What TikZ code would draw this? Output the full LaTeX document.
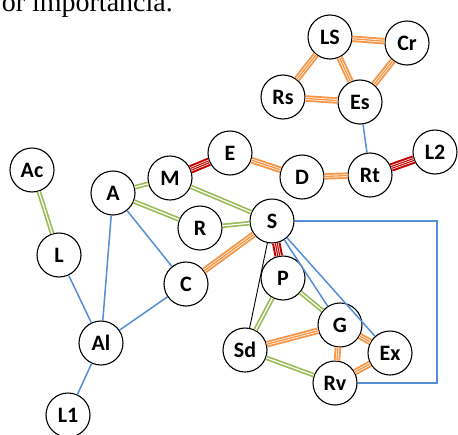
\documentclass[tikz,border=0pt]{standalone}
\usepackage{fontspec}
\setmainfont{Carlito}
\newfontfamily\capserif{Liberation Serif}
\definecolor{orl}{HTML}{F79646}
\definecolor{grn}{HTML}{9BBB59}
\definecolor{rdl}{HTML}{C00000}
\definecolor{bll}{HTML}{558ED5}

\begin{document}
\begin{tikzpicture}[
  x=1pt, y=-1pt,
  bub/.style={circle, draw, line width=1.1pt, fill=white, minimum size=44pt, inner sep=0pt,
    font=\fontsize{22}{22}\selectfont\bfseries},
  orange link/.style={draw=orl, line width=6.5pt,
    postaction={draw=white, line width=0.7pt, double=orl, double distance=1.3pt}},
  green link/.style={draw=grn, line width=1.7pt, double=white, double distance=1.2pt},
  red link/.style={draw=rdl, line width=8.5pt,
    postaction={draw=white, line width=0.7pt, double=rdl, double distance=3pt},
    postaction={draw=white, line width=0.6pt}},
  blue link/.style={draw=bll, line width=1.5pt},
  black link/.style={draw=black, line width=0.9pt}
]
  \useasboundingbox (0,0) rectangle (458,434);

  % cut-off caption line
  \node[anchor=base east, inner sep=0pt, font=\capserif\fontsize{28}{28}\selectfont] (cap) at (173,11) {or importancia.};

  % nodes
  \node[bub] (LS) at (330,37)  {LS};
  \node[bub] (Cr) at (407,43)  {Cr};
  \node[bub] (Rs) at (283,97)  {Rs};
  \node[bub] (Es) at (360,102) {Es};
  \node[bub] (L2) at (435,152) {L2};
  \node[bub] (E)  at (230,153) {E};
  \node[bub] (D)  at (302,177) {D};
  \node[bub] (Rt) at (370,175) {Rt};
  \node[bub] (Ac) at (32,170)  {Ac};
  \node[bub] (M)  at (170,178) {M};
  \node[bub] (A)  at (113,193) {A};
  \node[bub] (R)  at (200,228) {R};
  \node[bub] (S)  at (272,221) {S};
  \node[bub] (L)  at (59,255)  {L};
  \node[bub] (P)  at (283,278) {P};
  \node[bub] (C)  at (186,284) {C};
  \node[bub] (G)  at (340,325) {G};
  \node[bub] (Al) at (101,343) {Al};
  \node[bub] (Sd) at (245,350) {Sd};
  \node[bub] (Ex) at (390,353) {Ex};
  \node[bub] (Rv) at (335,383) {Rv};
  \node[bub] (L1) at (68,415)  {L1};

  \coordinate (boxc) at (437,0);

  % links
  \draw[orange link] (LS) -- (Cr);
  \draw[orange link] (LS) -- (Rs);
  \draw[orange link] (LS) -- (Es);
  \draw[orange link] (Cr) -- (Es);
  \draw[orange link] (Rs) -- (Es);
  \draw[orange link] (E) -- (D);
  \draw[orange link] (D) -- (Rt);
  \draw[orange link] (S) -- (C);
  \draw[orange link] (Sd) -- (G);
  \draw[orange link] (G) -- (Ex);
  \draw[orange link] (G) -- (Rv);
  \draw[orange link] (Rv) -- (Ex);

  \draw[red link] (Rt) -- (L2);
  \draw[red link] (M) -- (E);
  \draw[red link] (S) -- (P);

  \draw[green link] (Ac) -- (L);
  \draw[green link] (A) -- (M);
  \draw[green link] (A) -- (R);
  \draw[green link] (M) -- (S);
  \draw[green link] (R) -- (S);
  \draw[green link] (P) -- (G);
  \draw[green link] (P) -- (Sd);
  \draw[green link] (Sd) -- (Rv);

  \draw[blue link] (Es) -- (Rt);
  \draw[blue link] (A) -- (Al);
  \draw[blue link] (A) -- (C);
  \draw[blue link] (L) -- (Al);
  \draw[blue link] (C) -- (Al);
  \draw[blue link] (Al) -- (L1);
  \draw[blue link] (S) -- (G);
  \draw[blue link] (S) -- (Ex);
  \draw[blue link] (S.east) -| (boxc |- Rv.east) -- (Rv.east);

  \draw[black link] (S) -- (Sd);
\end{tikzpicture}
\end{document}
